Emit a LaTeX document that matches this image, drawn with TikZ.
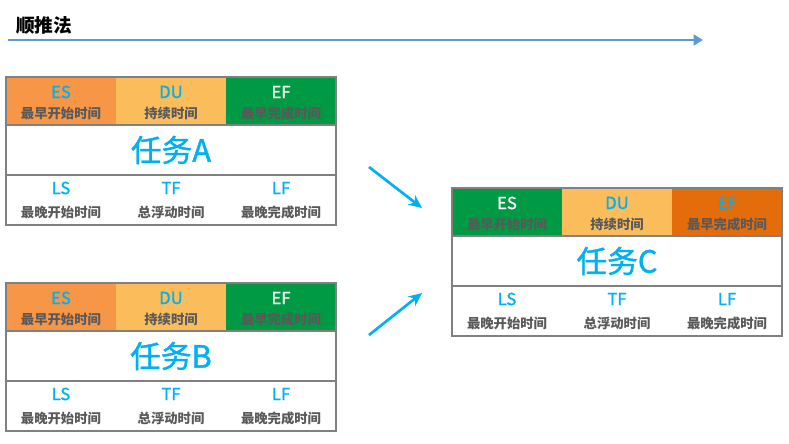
\documentclass[tikz,border=0pt]{standalone}
\usepackage{fontspec}
\setmainfont{Noto Sans CJK SC}
\newfontfamily\mediumfont[FakeBold=1.3]{Noto Sans CJK SC}
\usetikzlibrary{arrows.meta,calc}
\definecolor{cOrange}{RGB}{247,150,70}
\definecolor{cLight}{RGB}{251,189,92}
\definecolor{cGreen}{RGB}{0,153,68}
\definecolor{cDark}{RGB}{228,108,10}
\definecolor{cBlue}{RGB}{0,176,240}
\definecolor{cGray}{RGB}{89,89,89}
\definecolor{cBorder}{RGB}{128,128,128}
\definecolor{cLine}{RGB}{91,155,213}
\tikzset{
  cell/.style={rectangle,inner sep=0pt,outer sep=0pt,minimum width=82.5pt,minimum height=36pt},
  midcell/.style={rectangle,inner sep=0pt,outer sep=0pt,minimum width=247.5pt,minimum height=37.5pt,
    text=cBlue,font=\fontsize{23pt}{26pt}\mediumfont},
  lab/.style={inner sep=0pt,font=\fontsize{12.5pt}{14pt}\mediumfont},
  sub/.style={inner sep=0pt,text=cGray,font=\fontsize{10pt}{12pt}\selectfont\bfseries},
  frame/.style={draw=cBorder,line width=0.9pt},
  flow/.style={draw=cBlue,line width=2pt,-{Stealth[length=10pt,width=9pt]}},
}
\newcommand\taskbox[9]{%
  \node[cell,fill=#4,anchor=north west] (#1es) at (#2,#3) {};
  \node[cell,fill=#6,anchor=north west] (#1du) at (#1es.north east) {};
  \node[cell,fill=#7,anchor=north west] (#1ef) at (#1du.north east) {};
  \node[midcell,anchor=north west] (#1name) at (#1es.south west) {任务#9};
  \node[cell,anchor=north west,minimum height=37.5pt] (#1ls) at (#1name.south west) {};
  \node[cell,anchor=north west,minimum height=37.5pt] (#1tf) at (#1ls.north east) {};
  \node[cell,anchor=north west,minimum height=37.5pt] (#1lf) at (#1tf.north east) {};
  \node[lab,text=#5] (#1esl) at ($(#1es.north)+(0,15)$) {ES};
  \node[sub] (#1ess) at ($(#1es.north)+(0,36)$) {最早开始时间};
  \node[lab,text=cBlue] (#1dul) at ($(#1du.north)+(0,15)$) {DU};
  \node[sub] (#1dus) at ($(#1du.north)+(0,36)$) {持续时间};
  \node[lab,text=#8] (#1efl) at ($(#1ef.north)+(0,15)$) {EF};
  \node[sub] (#1efs) at ($(#1ef.north)+(0,36)$) {最早完成时间};
  \node[lab,text=cBlue] (#1lsl) at ($(#1ls.north)+(0,13)$) {LS};
  \node[sub] (#1lss) at ($(#1ls.north)+(0,37)$) {最晚开始时间};
  \node[lab,text=cBlue] (#1tfl) at ($(#1tf.north)+(0,13)$) {TF};
  \node[sub] (#1tfs) at ($(#1tf.north)+(0,37)$) {总浮动时间};
  \node[lab,text=cBlue] (#1lfl) at ($(#1lf.north)+(0,13)$) {LF};
  \node[sub] (#1lfs) at ($(#1lf.north)+(0,37)$) {最晚完成时间};
  \draw[frame] (#1es.north west) rectangle (#1lf.south east);
  \draw[frame] (#1name.north west) -- (#1name.north east);
  \draw[frame] (#1name.south west) -- (#1name.south east);
}
\begin{document}
\begin{tikzpicture}[x=0.75pt,y=-0.75pt]
\useasboundingbox[fill=white] (0,0) rectangle (789,443);
\node[anchor=west,inner sep=0pt,font=\fontsize{14pt}{16pt}\selectfont\bfseries] (title) at (16,25) {顺推法};
\coordinate (ls) at (8,40);
\coordinate (le) at (703,40);
\draw[draw=cLine,line width=2pt,-{Triangle[length=7pt,width=8pt]}] (ls) -- (le);
\taskbox{A}{6}{77}{cOrange}{cBlue}{cLight}{cGreen}{white}{A}
\taskbox{B}{6}{283}{cOrange}{cBlue}{cLight}{cGreen}{white}{B}
\taskbox{C}{452}{188}{cGreen}{white}{cLight}{cDark}{cBlue}{C}
\coordinate (a1) at (369,167);
\coordinate (a2) at (422,208);
\coordinate (b1) at (369,335);
\coordinate (b2) at (422,293);
\draw[flow] (a1) -- (a2);
\draw[flow] (b1) -- (b2);
\end{tikzpicture}
\end{document}
